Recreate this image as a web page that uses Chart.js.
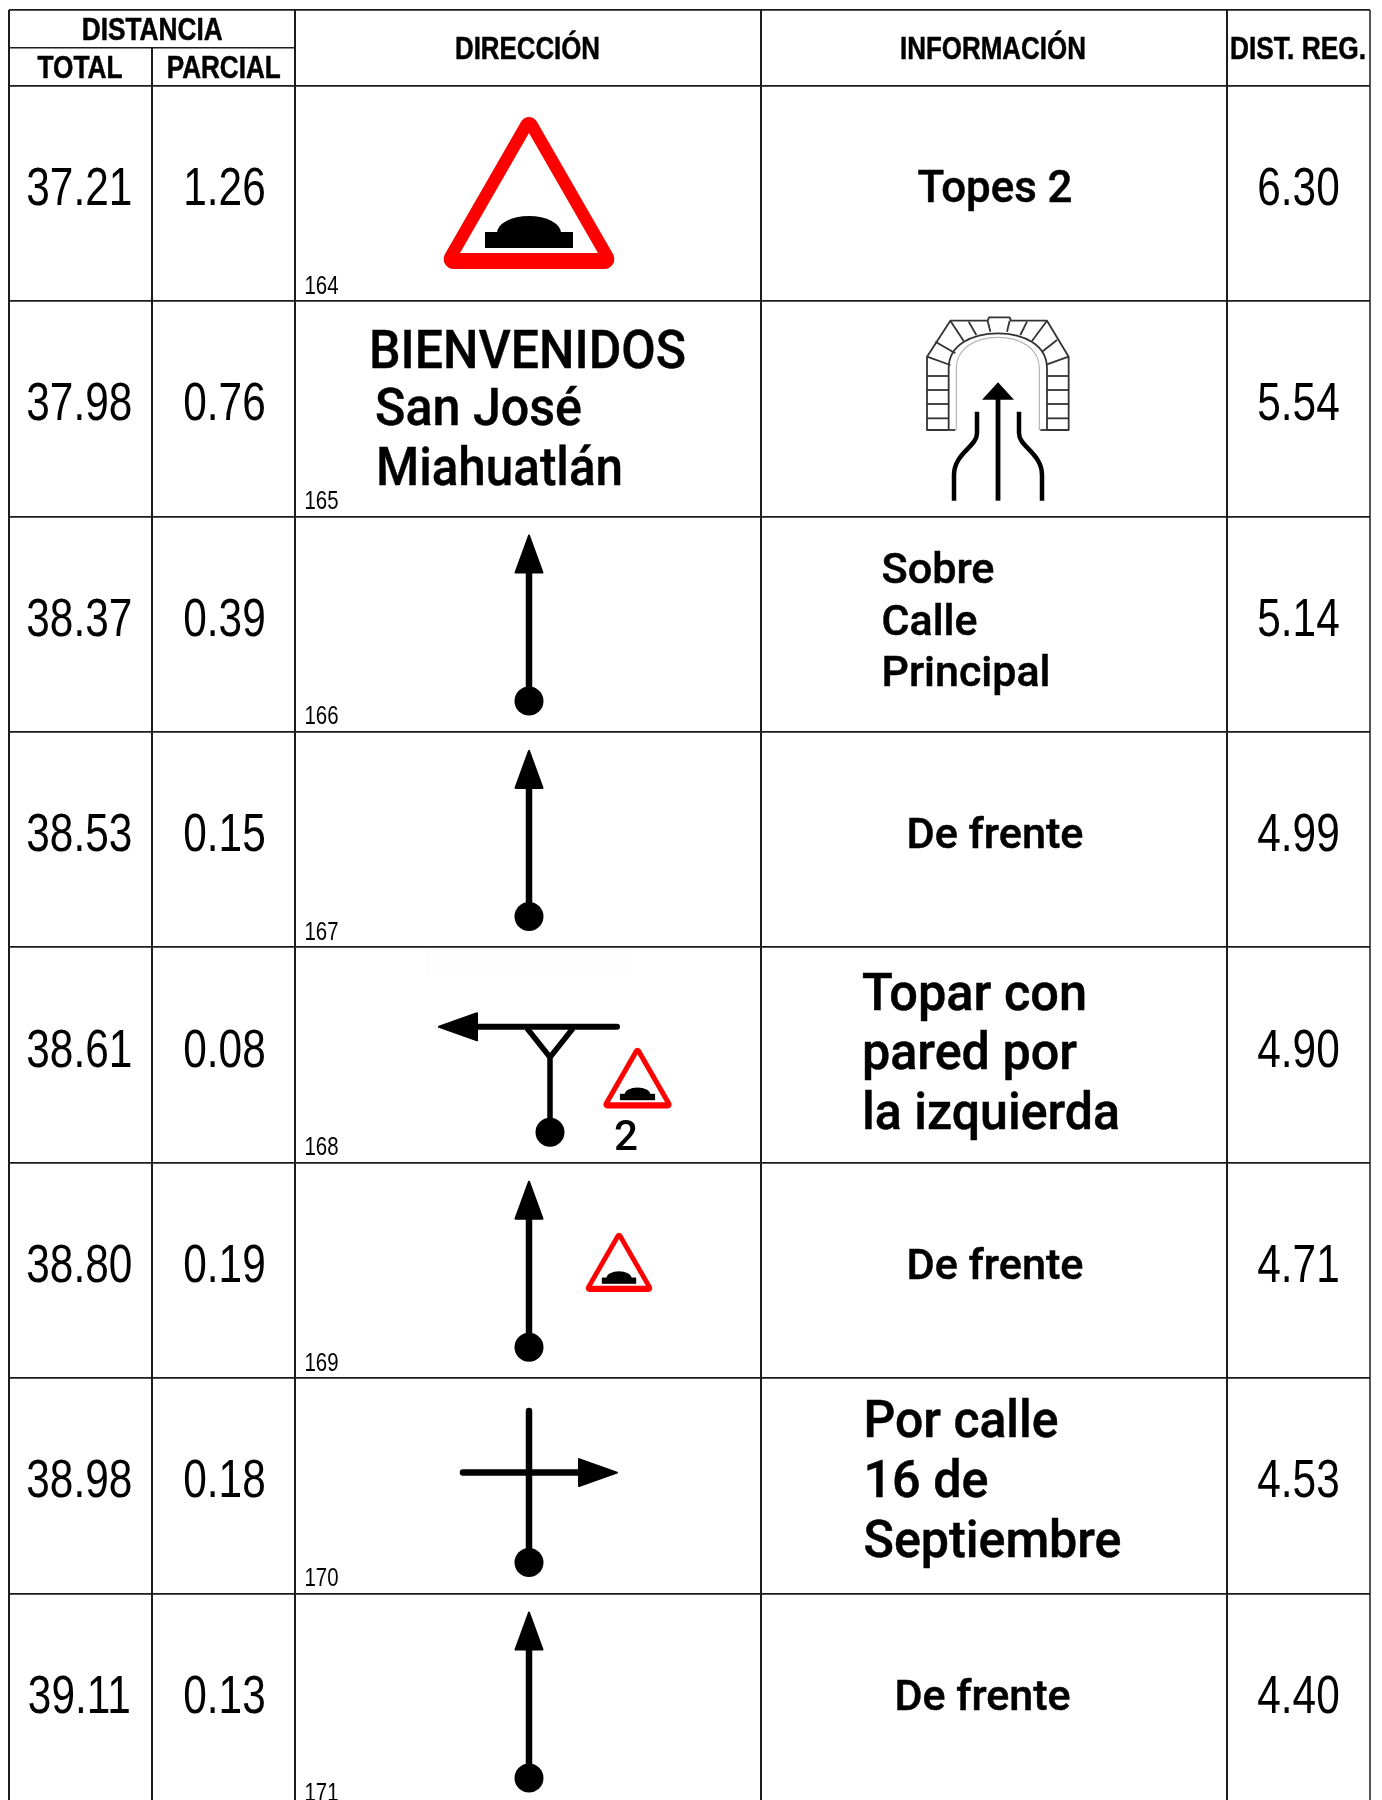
<!DOCTYPE html>
<html>
<head>
<meta charset="utf-8">
<title>Libro de ruta</title>
<script src="https://cdn.jsdelivr.net/npm/chart.js@4"></script>
<style>
  html, body { margin: 0; padding: 0; background: #fff; overflow: hidden; }
  canvas { display: block; }
</style>
</head>
<body>
<canvas id="routeChart" width="1382" height="1800"></canvas>
<script>
// Route table data
const rowNumbers = [164, 165, 166, 167, 168, 169, 170, 171];
const totals = [37.21, 37.98, 38.37, 38.53, 38.61, 38.80, 38.98, 39.11];
const partials = [1.26, 0.76, 0.39, 0.15, 0.08, 0.19, 0.18, 0.13];
const distRegs = [6.30, 5.54, 5.14, 4.99, 4.90, 4.71, 4.53, 4.40];
const infoLines = [
  ['Topes 2'],
  [],
  ['Sobre', 'Calle', 'Principal'],
  ['De frente'],
  ['Topar con', 'pared por', 'la izquierda'],
  ['De frente'],
  ['Por calle', '16 de', 'Septiembre'],
  ['De frente']
];
const townLines = ['BIENVENIDOS', 'San José', 'Miahuatlán'];
const headerGroup = 'DISTANCIA';
const headerSub = ['TOTAL', 'PARCIAL'];
const headerMain = ['DIRECCIÓN', 'INFORMACIÓN', 'DIST. REG.'];

// table layout, x in page px, y in rows
const HEAD_TOP = -0.3514;
const HEAD_MID = -0.1764;
const Y_END = 7.9587;
const X_LEFT = 8.5, X_PARTIAL = 152, X_DIR = 295, X_INFO = 761, X_REG = 1227, X_RIGHT = 1370;
const COL_TOTAL = 79.3, COL_PARTIAL = 224.5, COL_REG = 1298.5;
const LINE = '#1c1c1c';

// where each info block starts: x, text size, baseline offsets from row top
const infoLayout = [
  { x: 917.5, size: 44, base: [116], w: [155] },
  null,
  { x: 881.5, size: 43, base: [67, 118.5, 170], w: [113, 96, 169] },
  { x: 906.5, size: 43, base: [116], w: [177] },
  { x: 862, size: 52, base: [63, 122, 181.5], w: [225, 215, 258] },
  { x: 906.5, size: 43, base: [116.5], w: [177] },
  { x: 863.5, size: 52, base: [59, 119, 178.5], w: [195, 125, 258] },
  { x: 894.5, size: 43, base: [116.5], w: [176] }
];

function fitText(ctx, text, x, y, font, width, heavy) {
  ctx.save();
  ctx.font = font;
  const natural = ctx.measureText(text).width;
  ctx.translate(x, y);
  ctx.scale(width / natural, 1);
  ctx.textAlign = 'left';
  ctx.textBaseline = 'alphabetic';
  ctx.fillStyle = '#000';
  ctx.fillText(text, 0, 0);
  if (heavy) {
    ctx.strokeStyle = '#000';
    ctx.lineWidth = heavy;
    ctx.strokeText(text, 0, 0);
  }
  ctx.restore();
}

function narrowText(ctx, text, cx, y, font, squeeze) {
  ctx.save();
  ctx.font = font;
  ctx.translate(cx, y);
  ctx.scale(squeeze, 1);
  ctx.textAlign = 'center';
  ctx.textBaseline = 'alphabetic';
  ctx.fillStyle = '#000';
  ctx.fillText(text, 0, 0);
  ctx.restore();
}

function ball(ctx, x, y) {
  ctx.beginPath();
  ctx.arc(x, y, 14.5, 0, Math.PI * 2);
  ctx.fill();
}

function head(ctx, tipX, tipY, baseX, baseY, half) {
  const dx = baseX - tipX, dy = baseY - tipY;
  const len = Math.hypot(dx, dy);
  const nx = -dy / len * half, ny = dx / len * half;
  ctx.beginPath();
  ctx.moveTo(tipX, tipY);
  ctx.lineTo(baseX + nx, baseY + ny);
  ctx.lineTo(baseX - nx, baseY - ny);
  ctx.closePath();
  ctx.lineJoin = 'round';
  ctx.lineWidth = 2;
  ctx.fill();
  ctx.stroke();
}

function straightArrow(ctx, x, top) {
  ctx.lineWidth = 6.5;
  ctx.lineCap = 'butt';
  ctx.beginPath();
  ctx.moveTo(x, top + 50);
  ctx.lineTo(x, top + 178);
  ctx.stroke();
  head(ctx, x, top + 19, x, top + 56, 13.5);
  ball(ctx, x, top + 184.5);
}

// warning sign with bump, k = 1 is the big one in row 164
function bumpSign(ctx, cx, top, k) {
  ctx.save();
  ctx.translate(cx, top);
  ctx.scale(k, k);
  ctx.fillStyle = '#ff0000';
  ctx.beginPath();
  ctx.moveTo(0, 152);
  ctx.arcTo(92.6, 152, 0, -9, 10);
  ctx.arcTo(0, -9, -92.6, 152, 9);
  ctx.arcTo(-92.6, 152, 0, 152, 10);
  ctx.closePath();
  ctx.fill();
  ctx.fillStyle = '#fff';
  ctx.beginPath();
  ctx.moveTo(0, 16);
  ctx.lineTo(69, 136);
  ctx.lineTo(-69, 136);
  ctx.closePath();
  ctx.fill();
  ctx.fillStyle = '#000';
  ctx.fillRect(-44, 115, 88, 16);
  ctx.beginPath();
  ctx.ellipse(0, 116, 32, 17, 0, Math.PI, 0);
  ctx.fill();
  ctx.restore();
}

function tunnel(ctx, cx) {
  const X = px => cx + (px - 293) / 3;
  const Y = py => 305 + py / 3;
  ctx.save();
  ctx.strokeStyle = '#333';
  ctx.lineWidth = 1.8;
  ctx.lineJoin = 'round';
  // outer stone outline
  ctx.beginPath();
  ctx.moveTo(X(145), Y(375));
  ctx.lineTo(X(80), Y(375));
  ctx.lineTo(X(80), Y(155));
  ctx.lineTo(X(150), Y(47));
  ctx.lineTo(X(262), Y(47));
  ctx.lineTo(X(266), Y(37));
  ctx.lineTo(X(328), Y(37));
  ctx.lineTo(X(332), Y(47));
  ctx.lineTo(X(440), Y(47));
  ctx.lineTo(X(505), Y(155));
  ctx.lineTo(X(505), Y(375));
  ctx.lineTo(X(440), Y(375));
  ctx.stroke();
  // arch, stones side
  ctx.beginPath();
  ctx.moveTo(X(145), Y(375));
  ctx.lineTo(X(145), Y(190));
  ctx.bezierCurveTo(X(145), Y(120), X(215), Y(85), X(293), Y(85));
  ctx.bezierCurveTo(X(370), Y(85), X(440), Y(120), X(440), Y(190));
  ctx.lineTo(X(440), Y(375));
  ctx.stroke();
  // stone joints
  const joints = [
    [80, 155, 150, 180], [105, 110, 165, 145], [150, 47, 190, 108], [205, 50, 228, 90],
    [262, 47, 270, 80], [328, 47, 320, 80], [380, 50, 360, 90], [440, 47, 395, 108],
    [470, 105, 425, 140], [505, 155, 440, 178],
    [80, 213, 145, 213], [80, 255, 145, 255], [80, 297, 145, 297], [80, 340, 145, 340],
    [440, 213, 505, 213], [440, 255, 505, 255], [440, 297, 505, 297], [440, 340, 505, 340],
    [145, 375, 165, 375], [420, 375, 440, 375]
  ];
  joints.forEach(j => {
    ctx.beginPath();
    ctx.moveTo(X(j[0]), Y(j[1]));
    ctx.lineTo(X(j[2]), Y(j[3]));
    ctx.stroke();
  });
  // thin grey inner arch
  ctx.strokeStyle = '#b5b5b5';
  ctx.lineWidth = 1.2;
  ctx.beginPath();
  ctx.moveTo(X(168), Y(375));
  ctx.lineTo(X(168), Y(190));
  ctx.bezierCurveTo(X(168), Y(130), X(225), Y(97), X(293), Y(97));
  ctx.bezierCurveTo(X(360), Y(97), X(417), Y(130), X(417), Y(190));
  ctx.lineTo(X(417), Y(375));
  ctx.stroke();
  // arrow and road edges
  ctx.strokeStyle = '#000';
  ctx.lineCap = 'butt';
  ctx.lineWidth = 4.8;
  ctx.beginPath();
  ctx.moveTo(cx, Y(587));
  ctx.lineTo(cx, Y(275));
  ctx.stroke();
  ctx.lineWidth = 4.5;
  [-1, 1].forEach(s => {
    ctx.beginPath();
    ctx.moveTo(cx + s * 21, Y(320));
    ctx.lineTo(cx + s * 21, Y(385));
    ctx.bezierCurveTo(cx + s * 21, Y(425), cx + s * 44, Y(445), cx + s * 44, Y(510));
    ctx.lineTo(cx + s * 44, Y(587));
    ctx.stroke();
  });
  ctx.fillStyle = '#000';
  ctx.beginPath();
  ctx.moveTo(cx, Y(232));
  ctx.lineTo(cx + 16, Y(284));
  ctx.lineTo(cx - 16, Y(284));
  ctx.closePath();
  ctx.fill();
  ctx.restore();
}

function drawIcons(ctx, rowTop) {
  const AX = 529;
  ctx.save();
  ctx.fillStyle = '#000';
  ctx.strokeStyle = '#000';

  bumpSign(ctx, AX, rowTop(0) + 31.3, 1);
  tunnel(ctx, 998);
  straightArrow(ctx, AX, rowTop(2));
  straightArrow(ctx, AX, rowTop(3));

  // row 168, T junction with wall to the left
  const t4 = rowTop(4);
  ctx.fillStyle = '#fdfdfd';
  ctx.fillRect(426, t4 + 1, 206, 27);
  ctx.fillStyle = '#000';
  ctx.lineCap = 'round';
  ctx.lineWidth = 6;
  ctx.beginPath();
  ctx.moveTo(470, t4 + 79.5);
  ctx.lineTo(617, t4 + 79.5);
  ctx.stroke();
  ctx.lineCap = 'butt';
  ctx.lineWidth = 5.5;
  ctx.beginPath();
  ctx.moveTo(527, t4 + 81);
  ctx.lineTo(550, t4 + 110);
  ctx.lineTo(573, t4 + 81);
  ctx.moveTo(550, t4 + 110);
  ctx.lineTo(550, t4 + 180);
  ctx.stroke();
  head(ctx, 439, t4 + 79.5, 477, t4 + 79.5, 13.5);
  ball(ctx, 550, t4 + 185);
  bumpSign(ctx, 637.5, t4 + 100.5, 0.4);
  fitText(ctx, '2', 614, t4 + 202.5, '500 43px Roboto', 24);

  straightArrow(ctx, AX, rowTop(5));
  bumpSign(ctx, 619, rowTop(5) + 70, 0.39);

  // row 170, cross with turn to the right
  const t6 = rowTop(6);
  ctx.lineCap = 'round';
  ctx.lineWidth = 6.5;
  ctx.beginPath();
  ctx.moveTo(AX, t6 + 33);
  ctx.lineTo(AX, t6 + 178);
  ctx.moveTo(463, t6 + 94.5);
  ctx.lineTo(582, t6 + 94.5);
  ctx.stroke();
  head(ctx, 617, t6 + 94.5, 579, t6 + 94.5, 13.5);
  ball(ctx, AX, t6 + 184.5);

  straightArrow(ctx, AX, rowTop(7));
  ctx.restore();
}

const tablePlugin = {
  id: 'tableText',
  afterDatasetsDraw(chart) {
    const ctx = chart.ctx;
    const x = chart.scales.x, y = chart.scales.y;
    const rowTop = i => y.getPixelForValue(i);
    const numFont = '53px "Liberation Sans"';
    const headFont = 'bold 31px "Liberation Sans"';

    // headers
    fitText(ctx, headerGroup, 81.7, 39.5, headFont, 141, 0.5);
    fitText(ctx, headerSub[0], 37.5, 77.5, headFont, 85, 0.5);
    fitText(ctx, headerSub[1], 166.7, 77.5, headFont, 114, 0.5);
    fitText(ctx, headerMain[0], 455, 58.5, headFont, 145, 0.5);
    fitText(ctx, headerMain[1], 900, 58.5, headFont, 186, 0.5);
    fitText(ctx, headerMain[2], 1230, 58.5, headFont, 136, 0.5);

    // numeric columns
    rowNumbers.forEach((n, i) => {
      const top = rowTop(i);
      narrowText(ctx, totals[i].toFixed(2), x.getPixelForValue(COL_TOTAL), top + 119.3, numFont, 0.8);
      narrowText(ctx, partials[i].toFixed(2), x.getPixelForValue(COL_PARTIAL), top + 119.3, numFont, 0.8);
      narrowText(ctx, distRegs[i].toFixed(2), x.getPixelForValue(COL_REG), top + 119.3, numFont, 0.8);
      fitText(ctx, String(n), 304.5, top + 208, '25px "Liberation Sans"', 34);
    });

    // info column
    infoLines.forEach((lines, i) => {
      const lay = infoLayout[i];
      if (!lay) return;
      lines.forEach((text, j) => {
        fitText(ctx, text, lay.x, rowTop(i) + lay.base[j], `500 ${lay.size}px Roboto`, lay.w[j], 0.5);
      });
    });

    // town sign in the direction column
    const t1 = rowTop(1);
    fitText(ctx, townLines[0], 369, t1 + 67, '500 53px Roboto', 317, 0.4);
    fitText(ctx, townLines[1], 375, t1 + 124, '500 51px Roboto', 207, 0.4);
    fitText(ctx, townLines[2], 376, t1 + 184, '500 53px Roboto', 247, 0.4);

    drawIcons(ctx, rowTop);
  }
};

const routeCtx = document.getElementById('routeChart').getContext('2d');

new Chart(routeCtx, {
  type: 'scatter',
  data: {
    datasets: [
      {
        label: 'parcial rule',
        data: [{ x: X_PARTIAL, y: HEAD_MID }, { x: X_PARTIAL, y: Y_END }],
        showLine: true, borderColor: LINE, borderWidth: 2, pointRadius: 0
      },
      {
        label: 'distancia rule',
        data: [{ x: X_LEFT, y: HEAD_MID }, { x: X_DIR, y: HEAD_MID }],
        showLine: true, borderColor: LINE, borderWidth: 1.6, pointRadius: 0
      }
    ]
  },
  options: {
    responsive: false,
    animation: false,
    layout: { padding: { left: X_LEFT, right: 1382 - X_RIGHT, top: 10, bottom: 0 } },
    plugins: { legend: { display: false }, tooltip: { enabled: false } },
    scales: {
      x: {
        type: 'linear',
        min: X_LEFT,
        max: X_RIGHT,
        afterBuildTicks: s => { s.ticks = [X_LEFT, X_DIR, X_INFO, X_REG, X_RIGHT].map(v => ({ value: v })); },
        ticks: { display: false },
        border: { display: false },
        grid: {
          color: c => (c.index === 4 ? '#555' : LINE),
          lineWidth: 2,
          drawTicks: false,
          tickLength: 0
        }
      },
      y: {
        type: 'linear',
        reverse: true,
        min: HEAD_TOP,
        max: Y_END,
        afterBuildTicks: s => {
          s.ticks = [HEAD_TOP].concat(rowNumbers.map((n, i) => i)).map(v => ({ value: v }));
        },
        ticks: { display: false },
        border: { display: false },
        grid: { color: LINE, lineWidth: 1.7, drawTicks: false, tickLength: 0 }
      }
    }
  },
  plugins: [tablePlugin]
});
</script>
</body>
</html>
